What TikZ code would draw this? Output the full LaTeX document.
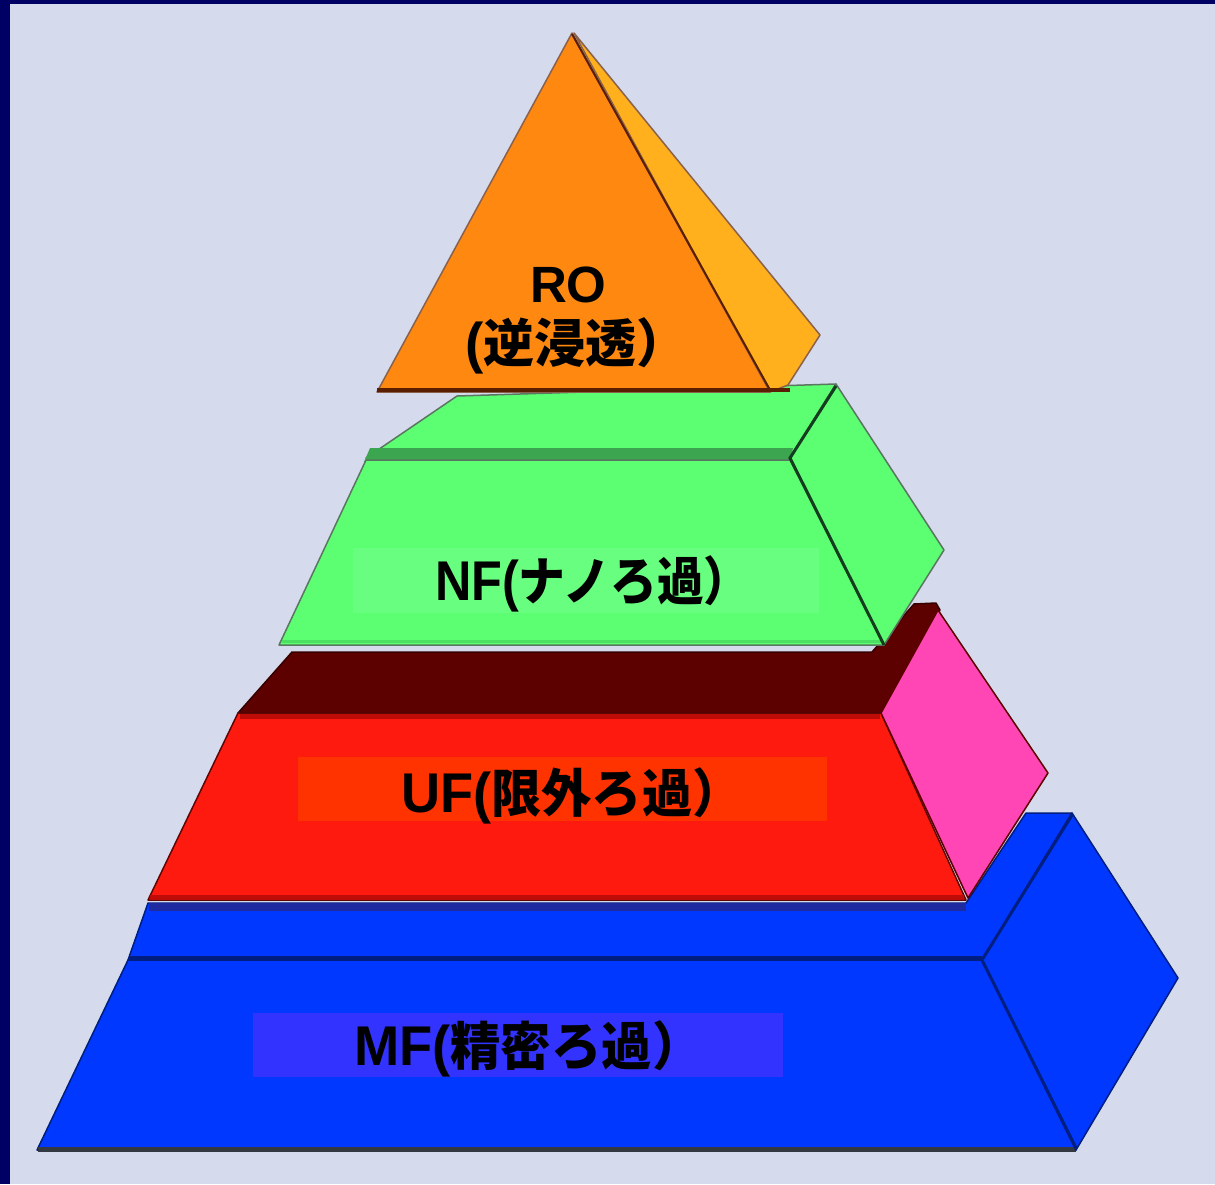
\documentclass[tikz,border=0pt]{standalone}
\usepackage{fontspec}
\setmainfont{Liberation Sans}
\newfontfamily\cjk{Noto Sans CJK JP}

\definecolor{bgc}{RGB}{213,219,236}
\definecolor{navy}{RGB}{0,0,100}
\definecolor{roFront}{RGB}{255,136,17}
\definecolor{roSide}{RGB}{255,176,28}
\definecolor{roLine}{RGB}{90,30,0}
\definecolor{nfFace}{RGB}{92,255,114}
\definecolor{nfBox}{RGB}{104,255,128}
\definecolor{nfBand}{RGB}{60,165,80}
\definecolor{nfLow}{RGB}{76,224,98}
\definecolor{nfLine}{RGB}{20,60,30}
\definecolor{ufTop}{RGB}{92,0,0}
\definecolor{ufFront}{RGB}{255,26,16}
\definecolor{ufBox}{RGB}{255,51,0}
\definecolor{ufSide}{RGB}{255,70,180}
\definecolor{ufEdge}{RGB}{190,12,8}
\definecolor{mfFace}{RGB}{0,56,255}
\definecolor{mfBox}{RGB}{51,51,255}
\definecolor{mfShadow}{RGB}{30,42,160}
\definecolor{mfLine}{RGB}{0,30,128}
\definecolor{mfBase}{RGB}{52,56,64}

% label text: Latin part, then Japanese part
\newcommand\labtext[2]{{\fontsize{56}{60}\selectfont\bfseries #1{\cjk\fontsize{52}{60}\selectfont #2}}}

\tikzset{
  lbl/.style={anchor=base west, inner sep=0pt, outer sep=0pt, text=black},
  face/.style={line width=1.5pt, line join=round}
}

\begin{document}
\begin{tikzpicture}[x=1pt, y=-1pt]
\useasboundingbox (0,0) rectangle (1215,1184);
% backdrop and frame
\fill[bgc] (0,0) rectangle (1215,1184);
\fill[navy] (0,0) rectangle (10,1184);
\fill[navy] (0,0) rectangle (1215,4);

% ---- MF tier (bottom) ----
\filldraw[face, fill=mfFace, draw=mfLine] (148,903) -- (966,903) -- (1026,813) -- (1072,813) -- (982,960) -- (128,960) -- cycle;
\fill[mfShadow] (149,903) rectangle (966,911);
\filldraw[face, fill=mfFace, draw=mfLine] (128,960) -- (982,960) -- (1076,1150) -- (37,1150) -- cycle;
\draw[mfLine, line width=5pt] (129,958) -- (982,958);
\draw[mfBase, line width=5pt] (38,1149) -- (1076,1149);
\filldraw[face, fill=mfFace, draw=mfLine] (982,960) -- (1072,813) -- (1178,978) -- (1076,1150) -- cycle;
\draw[mfLine, line width=3pt] (1072,815) -- (982,960) -- (1076,1148);
\fill[mfBox] (253,1013) rectangle (783,1077);

% ---- UF tier ----
\filldraw[face, fill=ufTop, draw=ufTop!60!black] (292,652) -- (872,652) -- (914,604) -- (936,603) -- (940,610) -- (881,713) -- (238,713) -- cycle;
\filldraw[face, fill=ufFront, draw=ufEdge!50!black] (238,713) -- (881,713) -- (966,900) -- (148,900) -- cycle;
\draw[ufEdge, line width=5pt] (240,716) -- (880,716);
\draw[ufEdge, line width=5pt] (150,897) -- (964,897);
\filldraw[face, fill=ufSide, draw=ufTop] (881,713) -- (938,610) -- (1048,773) -- (968,898) -- cycle;
\fill[ufBox] (298,757) rectangle (827,821);

% ---- NF tier ----
\filldraw[face, fill=nfFace, draw=nfLine!70] (457,396) -- (836,384) -- (790,458) -- (366,458) -- cycle;
\fill[nfBand] (370,448) -- (793,448) -- (790,462) -- (364,462) -- cycle;
\filldraw[face, fill=nfFace, draw=nfLine!70] (366,460) -- (790,460) -- (884,645) -- (279,645) -- cycle;
\draw[nfLow, line width=3pt] (282,641) -- (882,641);
\filldraw[face, fill=nfFace, draw=nfLine!70] (790,458) -- (836,384) -- (944,550) -- (884,645) -- cycle;
\draw[nfLine, line width=3pt] (836,386) -- (790,458) -- (884,645);
\fill[nfBox] (353,548) rectangle (819,613);

% ---- RO tier (top) ----
\filldraw[face, fill=roSide, draw=roLine!70] (574,33) -- (820,335) -- (788,385) -- (770,392) -- cycle;
\filldraw[face, fill=roFront, draw=roLine!70] (572,33) -- (770,392) -- (377,392) -- cycle;
\draw[roLine, line width=2pt] (572,34) -- (770,390);
\draw[roLine, line width=4pt] (377,390) -- (790,390);

% ---- labels ----
\node[lbl] (ro1) at (530,302) {\fontsize{51}{60}\selectfont\bfseries RO};
\node[lbl] (ro2) at (465,362) {\scalebox{0.98}[1]{\labtext{(}{逆浸透）}}};
\node[lbl] (nf) at (435,600) {\scalebox{0.9}[1]{\labtext{NF(}{ナノろ過）}}};
\node[lbl] (uf) at (401,812) {\scalebox{0.967}[1]{\labtext{UF(}{限外ろ過）}}};
\node[lbl] (mf) at (354,1065) {\scalebox{0.97}[1]{\labtext{MF(}{精密ろ過）}}};
\end{tikzpicture}
\end{document}
